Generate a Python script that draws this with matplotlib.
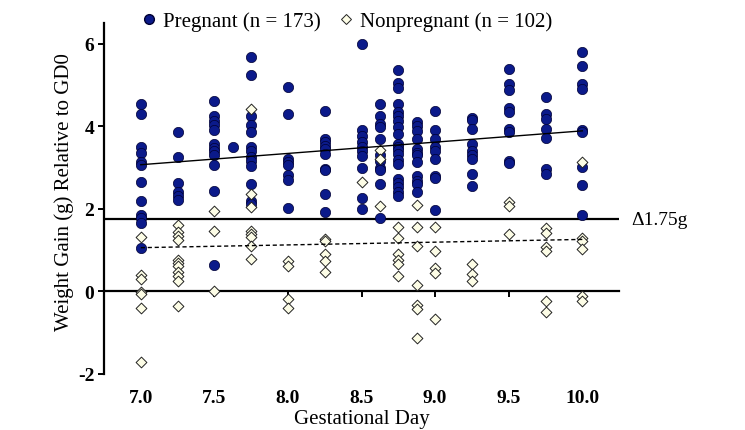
"""
Weight gain vs gestational day, pregnant vs nonpregnant, saved to out.png.
"""

import numpy as np
import matplotlib
matplotlib.use("Agg")
import matplotlib.pyplot as plt
from matplotlib.lines import Line2D

plt.rcParams["font.family"] = ["Liberation Serif", "DejaVu Serif"]

# ── data ─────────────────────────────────────────────────────────────────────
days = [7.0, 7.25, 7.5, 7.625, 7.75, 8.0, 8.25, 8.5, 8.625, 8.75, 8.875,
        9.0, 9.25, 9.5, 9.75, 10.0]

pregnant = [
    [4.55, 4.31, 3.51, 3.35, 3.14, 3.07, 2.65, 2.18, 1.85, 1.78, 1.65, 1.06],
    [3.87, 3.26, 2.62, 2.40, 2.31, 2.22],
    [4.62, 4.24, 4.12, 4.02, 3.92, 3.58, 3.48, 3.40, 3.30, 3.06, 2.43, 0.63],
    [3.49],
    [5.69, 5.24, 4.26, 4.04, 3.86, 3.49, 3.39, 3.26, 3.16, 3.03, 2.60, 2.18, 2.12],
    [4.96, 4.31, 3.22, 3.14, 3.06, 2.82, 2.70, 2.02],
    [4.36, 3.69, 3.61, 3.53, 3.45, 3.33, 2.97, 2.93, 2.36, 1.92],
    [6.00, 3.92, 3.76, 3.63, 3.51, 3.41, 3.27, 3.00, 2.26, 2.00],
    [4.54, 4.24, 4.05, 3.98, 3.69, 3.30, 3.17, 3.00, 2.95, 2.60, 1.77],
    [5.36, 5.05, 4.93, 4.54, 4.34, 4.24, 4.13, 3.99, 3.81, 3.57, 3.50, 3.42,
     3.33, 3.18, 3.09, 2.72, 2.63, 2.52, 2.42, 2.32],
    [4.10, 4.00, 3.89, 3.69, 3.45, 3.35, 3.30, 3.13, 2.79, 2.68, 2.60, 2.42],
    [4.38, 3.92, 3.69, 3.49, 3.39, 3.20, 2.80, 2.76, 1.98],
    [4.21, 4.15, 3.93, 3.57, 3.40, 3.30, 3.21, 2.85, 2.56],
    [5.40, 5.02, 4.89, 4.45, 4.34, 3.94, 3.87, 3.17, 3.10],
    [4.72, 4.30, 4.17, 3.93, 3.71, 2.97, 2.85],
    [5.80, 5.45, 5.02, 4.90, 3.92, 3.86, 3.01, 2.58, 1.86],
]

nonpregnant = [
    [1.33, 0.40, 0.29, -0.02, -0.07, -0.40, -1.71],
    [1.60, 1.45, 1.35, 1.25, 0.76, 0.69, 0.61, 0.48, 0.37, 0.25, -0.36],
    [1.96, 1.46, 0.02],
    [],
    [4.42, 2.35, 2.04, 1.46, 1.40, 1.31, 1.11, 0.79],
    [0.74, 0.61, -0.18, -0.40],
    [1.27, 1.23, 0.90, 0.74, 0.47],
    [2.66],
    [3.43, 3.22, 2.08],
    [1.57, 1.29, 0.90, 0.77, 0.67, 0.37],
    [2.10, 1.57, 1.10, 0.16, -0.32, -0.42, -1.14],
    [1.57, 0.97, 0.57, 0.45, -0.68],
    [0.66, 0.43, 0.26],
    [2.17, 2.06, 1.38],
    [1.53, 1.42, 1.07, 0.97, -0.24, -0.50],
    [3.13, 1.29, 1.21, 1.02, -0.10, -0.24],
]

fit_days = [7.0, 10.0]
fit_pregnant = [3.07, 3.89]
fit_nonpregnant = [1.06, 1.26]

threshold = 1.75
xticks = [7.0, 7.5, 8.0, 8.5, 9.0, 9.5, 10.0]
yticks = [-2, 0, 2, 4, 6]

label_preg = "Pregnant (n = 173)"
label_nonpreg = "Nonpregnant (n = 102)"

NAVY = "#0b1a8a"
CREAM = "#fdfde6"


def flatten(groups):
    xs = np.repeat(days, [len(g) for g in groups])
    ys = np.concatenate([np.asarray(g, dtype=float) for g in groups])
    return xs, ys


def main() -> None:
    px, py = flatten(pregnant)
    nx, ny = flatten(nonpregnant)

    fig = plt.figure(figsize=(7.45, 4.31), dpi=100)
    ax = fig.add_axes([0.1396, 0.130, 0.6914, 0.814])

    ax.scatter(px, py, s=55, marker="o", facecolor=NAVY, edgecolor="#000033",
               linewidths=0.5, zorder=3)
    ax.scatter(nx, ny, s=30, marker="D", facecolor=CREAM, edgecolor="#222222",
               linewidths=0.7, zorder=4)

    ax.plot(fit_days, fit_pregnant, color="black", lw=1.0, zorder=5)
    ax.plot(fit_days, fit_nonpregnant, color="black", lw=1.0,
            linestyle=(0, (3, 2)), zorder=5)

    ax.axhline(threshold, color="black", lw=1.6, zorder=2)
    ax.text(10.33, threshold, f"\u0394{threshold:.2f}g", fontsize=14,
            va="center", ha="left", clip_on=False)

    ax.set_xlim(6.75, 10.25)
    ax.set_ylim(-2, 6.5)

    # ── axes styling: x axis line sits at y = 0, labels at the bottom ───────
    for side in ("top", "right"):
        ax.spines[side].set_visible(False)
    ax.spines["left"].set_linewidth(1.6)
    ax.spines["bottom"].set_linewidth(1.6)
    ax.spines["bottom"].set_position(("data", 0))
    ax.set_xticks(xticks)
    ax.tick_params(axis="x", labelbottom=False, direction="out",
                   length=4, width=1.4)

    sec = ax.secondary_xaxis(0.0)
    sec.spines["bottom"].set_visible(False)
    sec.set_xticks(xticks, labels=[f"{t:.1f}" for t in xticks],
                   fontsize=14, fontweight="bold")
    sec.tick_params(length=0, pad=11)

    ax.set_yticks(yticks, labels=[str(t) for t in yticks],
                  fontsize=14, fontweight="bold")
    ax.tick_params(axis="y", direction="out", length=4, width=1.4, pad=3)

    ax.set_ylabel("Weight Gain (g) Relative to GD0", fontsize=15)
    ax.yaxis.set_label_coords(-0.058, 0.52)
    ax.set_xlabel("Gestational Day", fontsize=15)
    ax.xaxis.set_label_coords(0.5, -0.10)

    handles = [
        Line2D([], [], marker="o", linestyle="none", markersize=7,
               markerfacecolor=NAVY, markeredgecolor="#000033"),
        Line2D([], [], marker="D", linestyle="none", markersize=5,
               markerfacecolor=CREAM, markeredgecolor="#222222",
               markeredgewidth=0.7),
    ]
    fig.legend(handles, [label_preg, label_nonpreg], loc="upper center",
               bbox_to_anchor=(0.465, 1.015), ncol=2, frameon=False,
               fontsize=15, handlelength=0.8, handletextpad=0.3,
               columnspacing=0.8)

    fig.savefig("out.png", dpi=100)


if __name__ == "__main__":
    main()
